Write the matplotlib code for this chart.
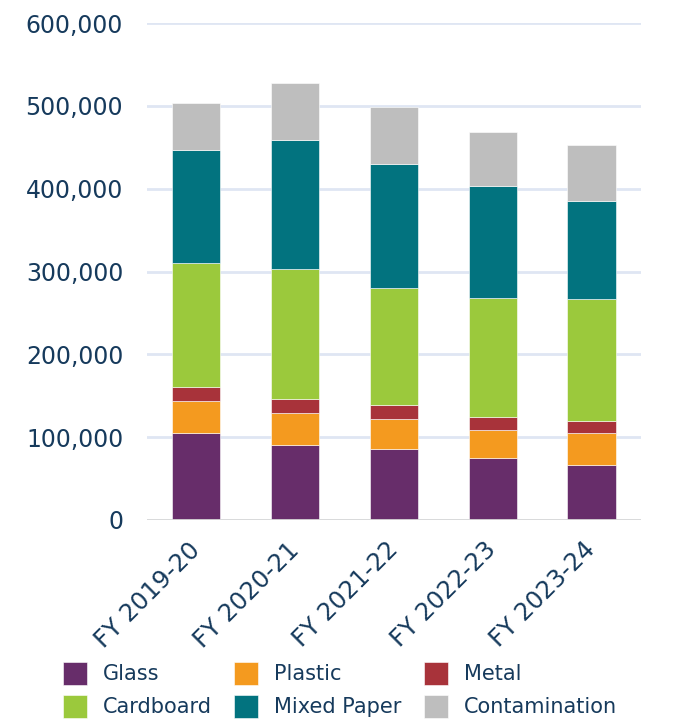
import numpy as np
import matplotlib
matplotlib.use('Agg')
from matplotlib import pyplot as plt
from matplotlib.ticker import FuncFormatter

# fiscal years and tonnage per material
years = ['FY 2019-20', 'FY 2020-21', 'FY 2021-22', 'FY 2022-23', 'FY 2023-24']
glass = [104400, 91000, 85500, 74600, 65700]
plastic = [39500, 38400, 36200, 33800, 39100]
metal = [16100, 16900, 16500, 15300, 14100]
cardboard = [150800, 157200, 141500, 144700, 147900]
mixed_paper = [135400, 154800, 150000, 135100, 118100]
contamination = [57700, 68900, 69300, 64800, 68100]

materials = ['Glass', 'Plastic', 'Metal', 'Cardboard', 'Mixed Paper', 'Contamination']
colours = ['#672d6a', '#f49a1f', '#a8333a', '#9bc93c', '#02737f', '#bebebe']
navy = '#163a5c'

series = [glass, plastic, metal, cardboard, mixed_paper, contamination]

fig = plt.figure(figsize=(6.83, 7.24), dpi=100)
ax = fig.add_axes([0.215, 0.282, 0.7235, 0.686])

x = np.arange(len(years))
bottom = np.zeros(len(years))
bars = []
for name, vals, col in zip(materials, series, colours):
    b = ax.bar(x, vals, width=0.49, bottom=bottom, color=col, label=name,
               edgecolor='white', linewidth=0.4, zorder=3)
    bars.append(b)
    bottom += np.array(vals)

ax.set_xlim(-0.5, 4.5)
ax.set_ylim(0, 600000)
ax.set_yticks(range(0, 600001, 100000))
ax.yaxis.set_major_formatter(FuncFormatter(lambda v, p: '{:,.0f}'.format(v)))
ax.grid(axis='y', color='#dfe6f3', linewidth=2, zorder=0)
ax.axhline(0, color='#d9d9d9', linewidth=2, zorder=4)
for s in ax.spines.values():
    s.set_visible(False)
ax.tick_params(axis='both', length=0, labelcolor=navy, labelsize=17)
ax.tick_params(axis='y', pad=17)
ax.set_xticks(x)
ax.set_xticklabels(years, rotation=45, ha='right', va='center',
                   rotation_mode='anchor', fontsize=17.5)
ax.tick_params(axis='x', pad=19)

# legend rows: Glass/Plastic/Metal then Cardboard/Mixed Paper/Contamination
order = [0, 3, 1, 4, 2, 5]
fig.legend([bars[i] for i in order], [materials[i] for i in order],
           ncol=3, loc='upper left', bbox_to_anchor=(0.08, 0.0975),
           frameon=False, fontsize=15, labelcolor=navy,
           handlelength=1.15, handleheight=1.35, handletextpad=0.75,
           columnspacing=1.1, labelspacing=0.45, borderaxespad=0)

fig.savefig('out.png', dpi=100)
